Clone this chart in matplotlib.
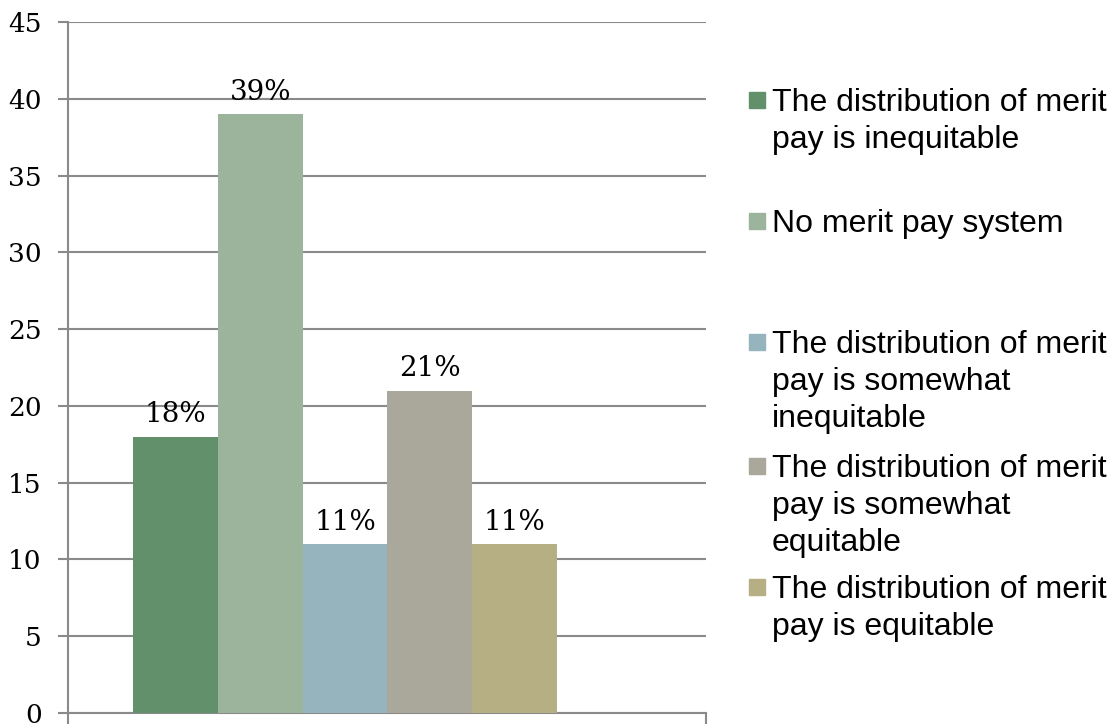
import matplotlib
matplotlib.use("Agg")
import matplotlib.pyplot as plt
from matplotlib.patches import Rectangle

# Datos del gráfico
categorias = [
    "The distribution of merit\npay is inequitable",
    "No merit pay system",
    "The distribution of merit\npay is somewhat\ninequitable",
    "The distribution of merit\npay is somewhat\nequitable",
    "The distribution of merit\npay is equitable",
]
valores = [18, 39, 11, 21, 11]
etiquetas = ["18%", "39%", "11%", "21%", "11%"]
colores = ["#62906a", "#9cb49b", "#95b4be", "#a9a89a", "#b6af84"]
yticks = [0, 5, 10, 15, 20, 25, 30, 35, 40, 45]

W, H = 1117, 726
fig = plt.figure(figsize=(W / 100, H / 100), dpi=100)
ax = fig.add_axes([68 / W, 13 / H, 638 / W, 691 / H])

gris = "#8a8a8a"
x = list(range(len(valores)))
barras = ax.bar(x, valores, width=1.0, color=colores, zorder=3)

for b, txt in zip(barras, etiquetas):
    ax.annotate(txt, (b.get_x() + b.get_width() / 2, b.get_height()),
                xytext=(0, 6), textcoords="offset points",
                ha="center", va="bottom", fontsize=20, family="DejaVu Serif")

ax.set_xlim(-1.27, 6.26)
ax.set_ylim(0, 45)
ax.set_yticks(yticks)
ax.set_yticklabels([str(v) for v in yticks], fontsize=19, family="DejaVu Serif")
ax.yaxis.grid(True, color=gris, linewidth=1.5, zorder=0)
ax.set_xticks([-1.27, 6.26])
ax.set_xticklabels([])
ax.tick_params(axis="y", direction="out", length=7, width=1.5, color=gris, pad=12)
ax.tick_params(axis="x", direction="out", length=8, width=1.5, color=gris)
for lado in ["top", "right"]:
    ax.spines[lado].set_visible(False)
for lado in ["left", "bottom"]:
    ax.spines[lado].set_color(gris)
    ax.spines[lado].set_linewidth(1.5)

# Leyenda manual (línea base de la primera línea de cada entrada, en píxeles)
base_leyenda = [111, 232, 353, 477, 598]
paso = 37
for cat, col, yb in zip(categorias, colores, base_leyenda):
    fig.patches.append(Rectangle((749 / W, 1 - (yb - 3) / H), 16 / W, 16 / H,
                                 transform=fig.transFigure, color=col))
    for i, linea in enumerate(cat.split("\n")):
        fig.text(772 / W, 1 - (yb + i * paso) / H, linea, fontsize=23,
                 family="Liberation Sans", ha="left", va="baseline")

fig.savefig("out.png", dpi=100)
